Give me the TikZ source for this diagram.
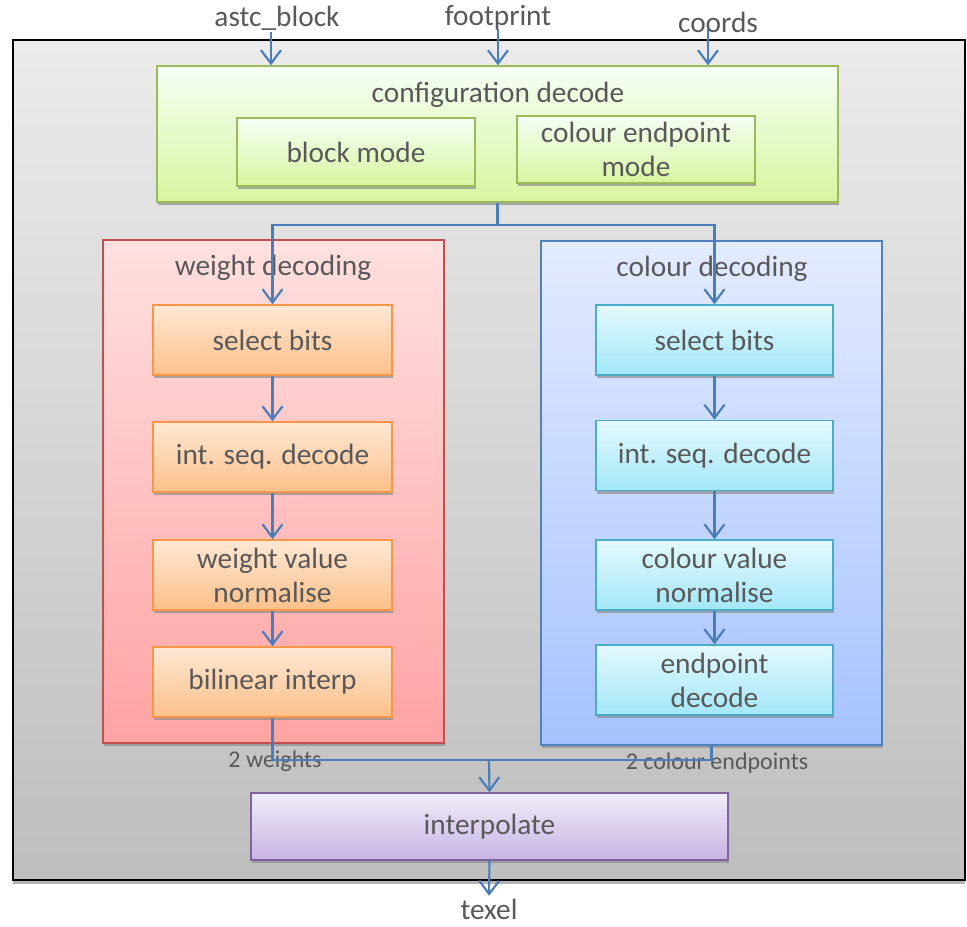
\documentclass[tikz,border=0pt]{standalone}
\usepackage{fontspec}
\setmainfont{Carlito}
\usetikzlibrary{arrows.meta,shadows}

\definecolor{txt}{HTML}{595959}
\definecolor{wire}{HTML}{4A7EBB}
\definecolor{cfgline}{HTML}{9BBB59}
\definecolor{wline}{HTML}{C0504D}
\definecolor{oline}{HTML}{F79646}
\definecolor{cline}{HTML}{4F81BD}
\definecolor{tline}{HTML}{4BACC6}
\definecolor{pline}{HTML}{8064A2}

\tikzstyle{blk} = [style={rectangle, draw, line width=1.1pt, inner sep=0pt, text=txt, align=center,
  font=\fontsize{22}{25.5}\selectfont,
  drop shadow={shadow xshift=0.8pt, shadow yshift=-2.6pt, fill=black!45, opacity=0.7}}]
\tikzstyle{cfg} = [style={blk, draw=cfgline, top color=green!4!white, bottom color={rgb,255:red,216;green,245;blue,160}}]
\tikzstyle{wgt} = [style={blk, draw=wline, top color={rgb,255:red,255;green,224;blue,224}, bottom color={rgb,255:red,255;green,163;blue,163}, minimum width=255.75pt}]
\tikzstyle{col} = [style={blk, draw=cline, top color={rgb,255:red,227;green,235;blue,255}, bottom color={rgb,255:red,166;green,195;blue,255}, minimum width=255.75pt}]
\tikzstyle{obox} = [style={blk, draw=oline, top color={rgb,255:red,255;green,232;blue,212}, bottom color={rgb,255:red,252;green,192;blue,138}, minimum width=179.25pt, minimum height=52.5pt}]
\tikzstyle{tbox} = [style={blk, draw=tline, top color={rgb,255:red,228;green,249;blue,254}, bottom color={rgb,255:red,163;green,231;blue,248}, minimum width=177.75pt, minimum height=52.5pt}]
\tikzstyle{pbox} = [style={blk, draw=pline, top color={rgb,255:red,241;green,237;blue,249}, bottom color={rgb,255:red,199;green,179;blue,227}}]
\tikzstyle{lbl} = [style={text=txt, inner sep=1pt, font=\fontsize{22}{25.5}\selectfont}]
\tikzstyle{sml} = [style={text=txt, inner sep=1pt, font=\fontsize{18}{21}\selectfont}]
\tikzstyle{flow} = [style={draw=wire, line width=1.6pt, -{Straight Barb[length=10pt,width=15pt,line width=1.6pt]}}]
\tikzstyle{link} = [style={draw=wire, line width=1.6pt}]

\newcommand*{\wx}{272.5}
\newcommand*{\cx}{714.5}

\begin{document}
\begin{tikzpicture}[x=0.75pt, y=-0.75pt]
\useasboundingbox (0,0) rectangle (967,927);

%% outer frame
\draw[line width=1.6pt, top color={rgb,255:red,235;green,235;blue,235}, bottom color={rgb,255:red,190;green,190;blue,190},
  drop shadow={shadow xshift=0pt, shadow yshift=-3pt, fill=black!50, opacity=0.6}]
  (13,40) rectangle (965,880);

%% inputs
\node[lbl] (astc) at (277,18) {astc\_block};
\node[lbl] (foot) at (498,18) {footprint};
\node[lbl] (crd)  at (718,22) {coords};

%% configuration decode
\node[cfg, minimum width=510.75pt, minimum height=102pt] (config) at (497.5,134) {};
\node[lbl] (cfgt) at (498,95) {configuration decode};
\node[cfg, minimum width=178.5pt, minimum height=51pt] (bmode) at (356,152) {block mode};
\node[cfg, minimum width=178.5pt, minimum height=50.25pt] (cmode) at (636,149.5) {colour endpoint\\mode};

%% weight / colour decoding
\node[wgt, minimum height=377.25pt] (wdec) at (273.5,491.5) {};
\node[lbl] (wdect) at (273,268) {weight decoding};
\node[col, minimum height=378pt] (cdec) at (711.5,493) {};
\node[lbl] (cdect) at (712,269) {colour decoding};

\foreach \n/\y/\t in {1/340/select bits, 2/457/int. seq. decode, 3/575/{weight value\\normalise}, 4/682/bilinear interp}
  {\node[obox] (w\n) at (\wx,\y) {\t};}

\foreach \n/\y/\t in {1/340/select bits, 2/455.5/int. seq. decode, 3/575/{colour value\\normalise}, 4/680/{endpoint\\decode}}
  {\node[tbox] (c\n) at (\cx,\y) {\t};}

%% interpolate
\node[pbox, minimum width=357.75pt, minimum height=50.25pt] (interp) at (489.5,826.5) {interpolate};
\node[sml] (wlab) at (275,761) {2 weights};
\node[sml] (clab) at (717,763) {2 colour endpoints};
\node[lbl, inner sep=0pt] (texel) at (489,909) {texel};

%% wiring
\draw[flow] ([xshift=-4.5pt]astc.south) -- ([xshift=-4.5pt]astc.south |- config.north);
\draw[flow] ([yshift=2pt]foot.south) -- (foot.south |- config.north);
\draw[flow] ([xshift=-7.5pt,yshift=4pt]crd.south) -- ([xshift=-7.5pt]crd.south |- config.north);

\coordinate (split) at (497.5,225);
\draw[link] (config.south) -- (split);
\draw[flow] (split) -| (w1.north);
\draw[flow] (split) -| (c1.north);

\foreach \a/\b in {w1/w2, w2/w3, w3/w4, c1/c2, c2/c3, c3/c4}
  {\draw[flow] (\a) -- (\b);}

\coordinate (merge) at (489,760);
\draw[link] (w4.south) |- (merge);
\draw[link] (cdec.south) |- (merge);
\draw[flow] (merge) -- (interp.north);
\draw[flow] (interp.south) -- ([yshift=2pt]texel.north);

\end{tikzpicture}
\end{document}
